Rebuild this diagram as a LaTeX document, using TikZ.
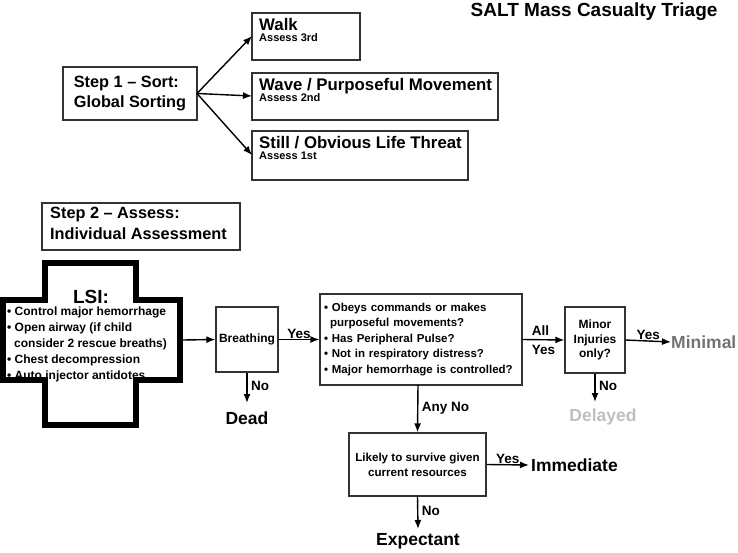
\documentclass[tikz,border=0pt]{standalone}
\usepackage{fontspec}
\setmainfont{Liberation Sans}
\usetikzlibrary{arrows.meta}
\begin{document}
\begin{tikzpicture}[x=1pt,y=-1pt,
  box/.style={draw=black!80,line width=1.2pt,inner sep=0pt},
  arr/.style={-{Latex[length=9pt,width=7pt]},line width=1.4pt},
  lab/.style={font=\fontsize{13.5}{14}\bfseries\selectfont},
  res/.style={font=\fontsize{17.5}{18}\bfseries\selectfont}]
\useasboundingbox (0,0) rectangle (738,553);
\node[anchor=east,font=\fontsize{19}{20}\bfseries\selectfont] (title) at (721,12) {SALT Mass Casualty Triage};
% step 1
\draw[box] (63,67) rectangle (197,120);
\node[align=left,font=\fontsize{16.3}{20}\bfseries\selectfont] (s1) at (130,93.5) {Step 1 – Sort:\\Global Sorting};
\coordinate (s1e) at (197,93.5);
\draw[box] (252,13) rectangle (360,60);
\node[anchor=north west,align=left,inner sep=0pt] (walk) at (259,18) {\fontsize{16.8}{18}\bfseries\selectfont Walk\\[-1pt]\fontsize{11}{13}\bfseries\selectfont Assess 3rd};
\draw[box] (252,73) rectangle (498,120);
\node[anchor=north west,align=left,inner sep=0pt] (wave) at (259,78) {\fontsize{16.8}{18}\bfseries\selectfont Wave / Purposeful Movement\\[-1pt]\fontsize{11}{13}\bfseries\selectfont Assess 2nd};
\draw[box] (252,131) rectangle (468,180);
\node[anchor=north west,align=left,inner sep=0pt] (still) at (259,136) {\fontsize{16.8}{18}\bfseries\selectfont Still / Obvious Life Threat\\[-1pt]\fontsize{11}{13}\bfseries\selectfont Assess 1st};
\draw[arr] (s1e) -- (252,36);
\draw[arr] (s1e) -- (252,96);
\draw[arr] (s1e) -- (252,155);
% step 2
\draw[box] (42,203) rectangle (240,250);
\node[anchor=north west,align=left,inner sep=0pt,font=\fontsize{16.3}{21}\bfseries\selectfont] (s2) at (50,207) {Step 2 – Assess:\\Individual Assessment};
% cross
\draw[line width=6pt,line join=miter] (45,263) -- (136,263) -- (136,300) -- (180,300) -- (180,380) -- (136,380) -- (136,425) -- (45,425) -- (45,380) -- (3,380) -- (3,300) -- (45,300) -- cycle;
\node[font=\fontsize{19}{20}\bfseries\selectfont] (lsi) at (91,297) {LSI:};
\node[anchor=north west,inner sep=0pt,font=\fontsize{12}{15.8}\bfseries\selectfont,align=left] (lsit) at (7,307) {• Control major hemorrhage\\• Open airway (if child\\\hspace*{7pt}consider 2 rescue breaths)\\• Chest decompression\\• Auto injector antidotes};
\coordinate (crossE) at (183,340);
% breathing
\node[box,minimum width=62pt,minimum height=65pt,font=\fontsize{12}{14}\bfseries\selectfont] (br) at (247,339.5) {Breathing};
\draw[arr] (crossE) -- (br.west);
\node[res] (dead) at (247,418) {Dead};
\draw[arr] (br.south) -- (247,403) node[lab,right,pos=0.45] {No};
% main box
\node[box,minimum width=202pt,minimum height=91pt,text width=194pt,align=left,font=\fontsize{11.5}{15.5}\bfseries\selectfont] (mb) at (421,339.5) {• Obeys commands or makes\\\hspace*{6pt}purposeful movements?\\• Has Peripheral Pulse?\\• Not in respiratory distress?\\• Major hemorrhage is controlled?};
\draw[arr] (br.east) -- (mb.west) node[lab,above,midway,yshift=-3pt] {Yes};
% minor
\node[box,minimum width=60pt,minimum height=66pt,align=center,font=\fontsize{12}{14.5}\bfseries\selectfont] (mi) at (595,340) {Minor\\Injuries\\only?};
\draw[arr] (mb.east) -- (mi.west) node[midway,align=left,font=\fontsize{13.5}{19}\bfseries\selectfont] {All\\Yes};
\node[res,text=black!55,anchor=west,inner sep=0pt] (minimal) at (671,342) {Minimal};
\draw[arr] (mi.east) -- (minimal.west) node[lab,above,midway,yshift=-3pt] {Yes};
\node[res,text=black!25] (delayed) at (603,417) {Delayed};
\draw[arr] (mi.south) -- (595,402) node[lab,right,pos=0.45] {No};
% likely
\node[box,minimum width=137pt,minimum height=63pt,align=center,font=\fontsize{11.6}{15}\bfseries\selectfont] (li) at (417.5,464.5) {Likely to survive given\\current resources};
\draw[arr] (418,385) -- (li.north) node[lab,right,midway] {Any No};
\node[res,anchor=west,inner sep=2pt] (imm) at (529,465) {Immediate};
\draw[arr] (li.east) -- (imm.west) node[lab,above,midway,yshift=-3pt] {Yes};
\node[res] (exp) at (418,541) {Expectant};
\draw[arr] (li.south) -- (418,529) node[lab,right,pos=0.45] {No};
\end{tikzpicture}
\end{document}
